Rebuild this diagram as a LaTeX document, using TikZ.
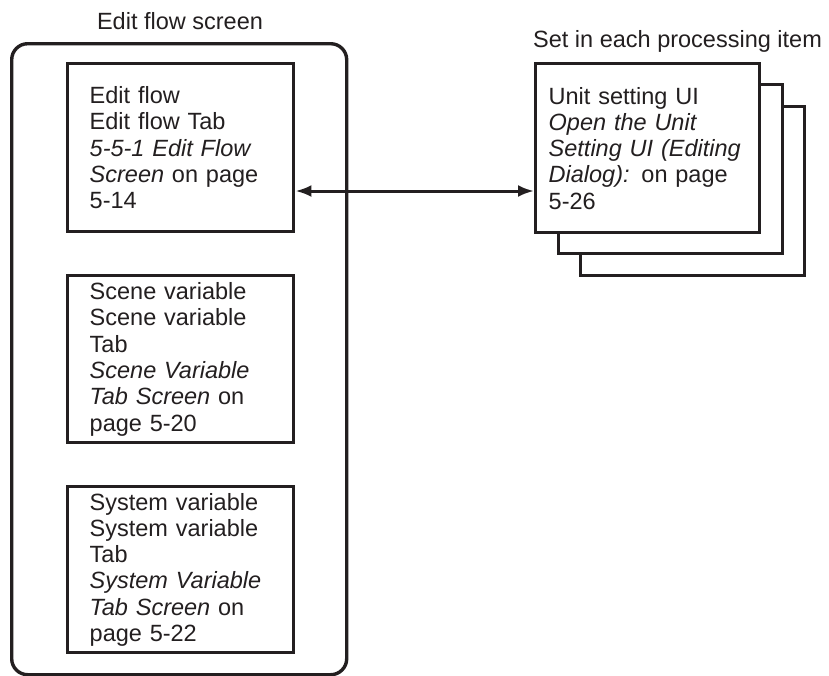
\documentclass[tikz,border=0pt]{standalone}
\usepackage{fontspec}
\setmainfont{Liberation Sans}
\usetikzlibrary{arrows.meta}
\definecolor{ink}{HTML}{231F20}

\begin{document}
\begin{tikzpicture}[x=1pt,y=-1pt,line join=miter,
    font=\fontsize{23.5}{26.3}\selectfont,
    panel/.style={draw=ink,line width=3.4pt,rounded corners=16pt,
      minimum width=335pt,minimum height=631pt,anchor=north west,inner sep=0pt},
    tabbox/.style={draw=ink,fill=white,line width=3.4pt,anchor=north west,
      minimum width=226pt,minimum height=168pt,text width=182pt,
      inner xsep=22pt,inner ysep=0pt,align=left,text=ink},
    unitbox/.style={tabbox,minimum width=224pt,minimum height=169pt,
      text width=198pt,inner xsep=13pt},
    caption/.style={text=ink,inner sep=0pt}]
  \path[use as bounding box] (0,0) rectangle (829,675);

  % outer screen frame and its caption
  \node[panel] (screen) at (10,42) {};
  \node[caption,anchor=base] (screentitle) at (180,29) {Edit flow screen};

  % the three tab boxes
  \node[tabbox] (edit) at (66,62) {Edit flow\\Edit flow Tab\\\textit{5-5-1 Edit Flow}\\\textit{Screen} on page\\5-14};
  \node[tabbox,minimum height=167pt] (scene) at (66,274) {Scene variable\\Scene variable\\Tab\\\textit{Scene Variable}\\\textit{Tab Screen} on\\page 5-20};
  \node[tabbox,minimum height=166pt] (system) at (66,485) {System variable\\System variable\\Tab\\\textit{System Variable}\\\textit{Tab Screen} on\\page 5-22};

  % stacked unit setting dialogs
  \node[unitbox] (unitc) at (579,105) {};
  \node[unitbox] (unitb) at (557,83) {};
  \node[unitbox] (unit) at (534,62) {Unit setting UI\\\textit{Open the Unit}\\\textit{Setting UI (Editing}\\{\itshape Dialog):} on page\\5-26};
  \node[caption,anchor=base west] (unittitle) at (533,47) {Set in each processing item};

  \draw[{Latex[length=16pt,width=12pt]}-{Latex[length=16pt,width=12pt]},ink,line width=3pt]
    (edit.east |- 0,191) -- (unit.west |- 0,191);
\end{tikzpicture}
\end{document}
